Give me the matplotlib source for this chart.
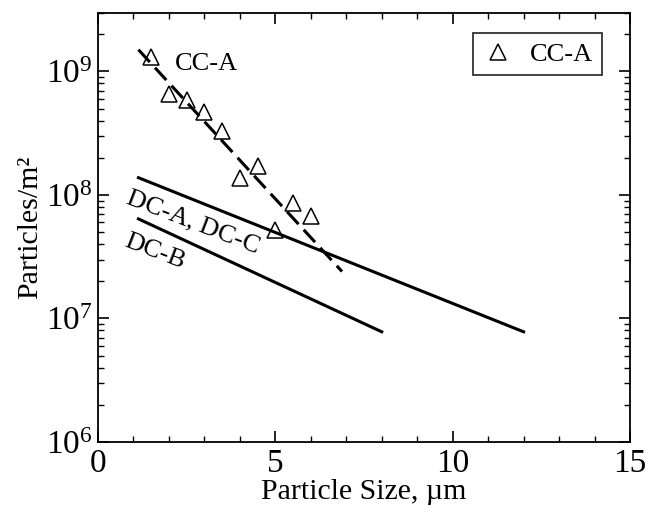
import numpy as np
import matplotlib
matplotlib.use("Agg")
import matplotlib.pyplot as plt
from matplotlib.ticker import LogLocator, MultipleLocator, NullFormatter

plt.rcParams['font.family'] = ['Liberation Serif', 'DejaVu Serif']
plt.rcParams['mathtext.fontset'] = 'custom'
plt.rcParams['mathtext.rm'] = 'Liberation Serif'
plt.rcParams['mathtext.it'] = 'Liberation Serif:italic'

# CC-A measured points
cc_x = [1.5, 2.0, 2.5, 3.0, 3.5, 4.0, 4.5, 5.0, 5.5, 6.0]
cc_y = [1.31e9, 6.6e8, 5.9e8, 4.7e8, 3.27e8, 1.38e8, 1.71e8, 5.2e7, 8.6e7, 6.8e7]

# CC-A fit (dashed)
fit_x = [1.14, 6.88]
fit_y = [1.5e9, 2.4e7]

# DC-A, DC-C line
dca_x = [1.14, 12.0]
dca_y = [1.38e8, 7.8e6]

# DC-B line
dcb_x = [1.14, 8.0]
dcb_y = [6.4e7, 7.8e6]

fig = plt.figure(figsize=(6.57, 5.15), dpi=100)
ax = fig.add_axes([98/657, 1-442/515, (630-98)/657, (442-12.5)/515])

ax.plot(fit_x, fit_y, color='black', lw=2.2, dashes=(5.5, 2.5))
ax.plot(dca_x, dca_y, color='black', lw=2.2)
ax.plot(dcb_x, dcb_y, color='black', lw=2.2)
ax.plot(cc_x, cc_y, linestyle='none', marker='^', markersize=11,
        markerfacecolor='none', markeredgecolor='black', markeredgewidth=1.1,
        label='CC-A')

ax.set_yscale('log')
ax.set_xlim(0, 15)
ax.set_ylim(1e6, 3e9)

ax.xaxis.set_major_locator(MultipleLocator(5))
ax.xaxis.set_minor_locator(MultipleLocator(1))
ax.yaxis.set_major_locator(LogLocator(base=10, numticks=10))
ax.yaxis.set_minor_locator(LogLocator(base=10, subs=np.arange(2, 10), numticks=10))
ax.yaxis.set_minor_formatter(NullFormatter())

ax.tick_params(which='both', direction='in', top=True, right=True, labelsize=24)
ax.tick_params(axis='x', pad=5)
ax.tick_params(axis='y', pad=4)
ax.tick_params(which='major', length=8, width=1.2)
ax.tick_params(which='minor', length=4, width=1.0)
for s in ax.spines.values():
    s.set_linewidth(1.3)

ax.set_xlabel('Particle Size, µm', fontsize=21.5, labelpad=0)
ax.set_ylabel('Particles/m²', fontsize=21.5, labelpad=2)

ax.text(3.05, 1.14e9, 'CC-A', fontsize=19, ha='center', va='center')
ax.text(2.68, 6.0e7, 'DC-A, DC-C', fontsize=19, ha='center', va='center',
        rotation=-21, rotation_mode='anchor')
ax.text(1.61, 3.5e7, 'DC-B', fontsize=19, ha='center', va='center',
        rotation=-21, rotation_mode='anchor')

leg = ax.legend(loc='upper right', fontsize=19, frameon=True, fancybox=False,
                edgecolor='black', handletextpad=0.6, borderpad=0.35,
                handlelength=1.2, borderaxespad=0, bbox_to_anchor=(0.947, 0.952))
leg.get_frame().set_linewidth(1.3)

fig.savefig('out.png', dpi=100)
